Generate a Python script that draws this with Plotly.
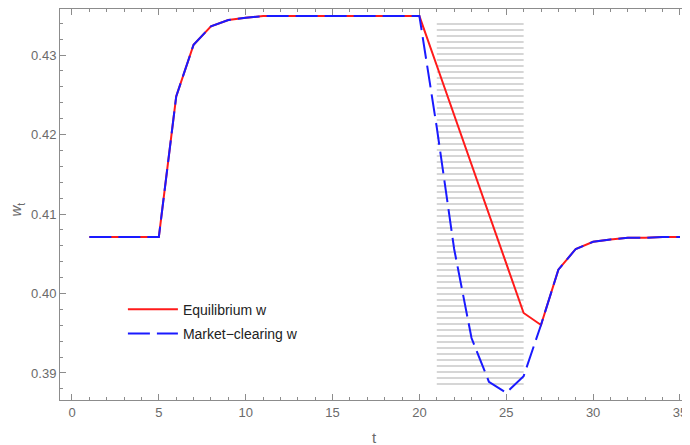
import plotly.graph_objects as go

t = list(range(1, 36))

equilibrium_w = [
    0.4071, 0.4071, 0.4071, 0.4071, 0.4071,
    0.4248, 0.4313, 0.4336, 0.4344, 0.4347,
    0.4349, 0.4349, 0.4349, 0.4349, 0.4349,
    0.4349, 0.4349, 0.4349, 0.4349, 0.4349,
    0.42868, 0.42245, 0.41623, 0.41000, 0.40378,
    0.39755, 0.39604, 0.4030, 0.4056, 0.4065,
    0.4068, 0.4070, 0.4070, 0.4071, 0.4071,
]

market_clearing_w = [
    0.4071, 0.4071, 0.4071, 0.4071, 0.4071,
    0.4248, 0.4313, 0.4336, 0.4344, 0.4347,
    0.4349, 0.4349, 0.4349, 0.4349, 0.4349,
    0.4349, 0.4349, 0.4349, 0.4349, 0.4349,
    0.4209, 0.4056, 0.3944, 0.3889, 0.3875,
    0.3896, 0.39604, 0.4030, 0.4056, 0.4065,
    0.4068, 0.4070, 0.4070, 0.4071, 0.4071,
]

# shaded (hatched) period
shade_t = [21, 26]
shade_w = [0.38828, 0.43406]

x_ticks = [0, 5, 10, 15, 20, 25, 30, 35]
y_ticks = [0.39, 0.40, 0.41, 0.42, 0.43]
y_tick_labels = ["0.39", "0.40", "0.41", "0.42", "0.43"]

fig = go.Figure()

fig.add_trace(go.Scatter(
    x=[shade_t[0], shade_t[1], shade_t[1], shade_t[0], shade_t[0]],
    y=[shade_w[0], shade_w[0], shade_w[1], shade_w[1], shade_w[0]],
    mode="none",
    fill="toself",
    fillcolor="rgba(0,0,0,0)",
    fillpattern=dict(shape="-", size=6, solidity=0.3,
                     fgcolor="#d2d2d2", bgcolor="rgba(255,255,255,0)",
                     fillmode="replace"),
    showlegend=False,
    hoverinfo="skip",
))

fig.add_trace(go.Scatter(
    x=t, y=equilibrium_w, mode="lines",
    name="Equilibrium w", legendgroup="eq",
    line=dict(color="#ff1a1a", width=2),
))

fig.add_trace(go.Scatter(
    x=t, y=market_clearing_w, mode="lines",
    name="Market\u2212clearing w", legendgroup="mc",
    line=dict(color="#1a1aff", width=2, dash="22px,7px"),
))

axis_col = "#8c8c8c"
font_family = "Liberation Sans, Arial, sans-serif"
label_font = dict(family=font_family, size=13, color="#6a6a6a")

# page body has an 8px default margin, so the figure is sized to fit inside it
fig.update_layout(
    width=682, height=437,
    margin=dict(l=52, r=1, t=1, b=45, autoexpand=False),
    paper_bgcolor="white",
    plot_bgcolor="white",
    showlegend=True,
    legend=dict(
        x=0.10, y=0.272, xanchor="left", yanchor="top",
        bgcolor="rgba(255,255,255,0)",
        itemwidth=50, tracegroupgap=3,
        font=dict(family=font_family, size=14, color="#222222"),
    ),
    xaxis=dict(
        range=[-0.69, 35.52],
        tickvals=x_ticks,
        ticks="inside", ticklen=6, tickwidth=1, tickcolor=axis_col,
        minor=dict(dtick=1, ticks="inside", ticklen=3, tickcolor=axis_col, showgrid=False),
        showline=True, linecolor=axis_col, linewidth=1, mirror="allticks",
        showgrid=False, zeroline=False, automargin=False,
        tickfont=label_font,
    ),
    yaxis=dict(
        range=[0.3866, 0.43579],
        tickvals=y_ticks, ticktext=y_tick_labels,
        ticks="inside", ticklen=6, tickwidth=1, tickcolor=axis_col,
        minor=dict(dtick=0.002, tick0=0.39, ticks="inside", ticklen=3, tickcolor=axis_col, showgrid=False),
        showline=True, linecolor=axis_col, linewidth=1, mirror="allticks",
        showgrid=False, zeroline=False, automargin=False,
        tickfont=label_font,
    ),
    annotations=[
        dict(text="t", xref="paper", yref="paper", x=0.5, y=0, yshift=-37,
             xanchor="center", yanchor="middle", showarrow=False,
             font=dict(family=font_family, size=15, color="#6a6a6a")),
        dict(text="<i>w</i><sub>t</sub>", xref="paper", yref="paper", x=0, xshift=-43,
             y=0.487, xanchor="center", yanchor="middle", showarrow=False, textangle=-90,
             font=dict(family=font_family, size=15, color="#6a6a6a")),
    ],
)

fig.write_html("out.html")
